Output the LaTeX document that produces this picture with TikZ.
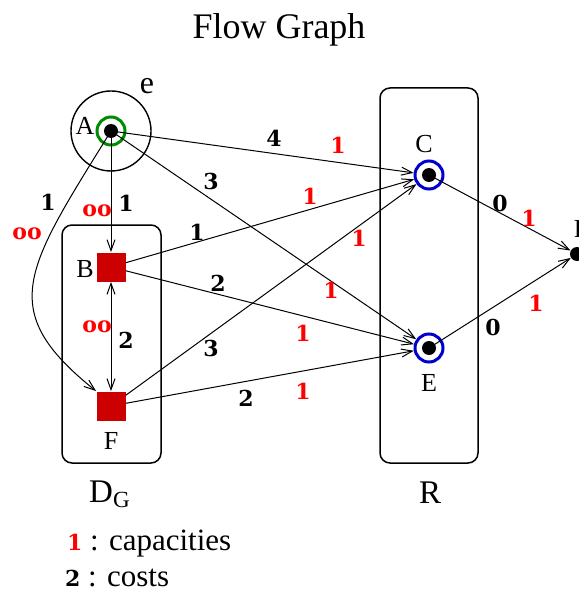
\documentclass[tikz,border=0pt]{standalone}
\usepackage{fontspec}
\setmainfont{Liberation Serif}
\newfontfamily\lblfont{DejaVu Serif}
\usetikzlibrary{arrows.meta}
\definecolor{capred}{RGB}{255,0,0}
\definecolor{boxred}{RGB}{204,0,0}
\definecolor{ringgreen}{RGB}{0,140,0}
\definecolor{ringblue}{RGB}{0,0,204}
\begin{document}
\begin{tikzpicture}[
        x=0.5pt, y=-0.5pt,
        every node/.style={font=\fontsize{13}{15}\selectfont},
        ring/.style={circle, minimum size=14pt, inner sep=0pt, line width=1.5pt},
        dot/.style={circle, fill=black, minimum size=7pt, inner sep=0pt},
        sq/.style={rectangle, fill=boxred, minimum size=14.5pt, inner sep=0pt},
        group/.style={draw, rounded corners=5pt, line width=0.75pt},
        arrow/.style={-{Straight Barb[length=5.5pt, width=4pt]}, line width=0.5pt},
        cost/.style={font=\lblfont\bfseries\fontsize{11}{13}\selectfont},
        capnum/.style={cost, text=capred},
        big/.style={font=\fontsize{16.5}{19}\selectfont}
      ]
      \useasboundingbox (0,0) rectangle (578,593);
      \node[font=\fontsize{18}{21}\selectfont] (title) at (279,30) {Flow Graph};
      \draw[group] (62,225) rectangle (161,463);
      \draw[group] (380,88) rectangle (478,463);
      \node[big] (dg) at (110,494) {D\textsubscript{G}};
      \node[big] (r) at (430,493) {R};
      \node[circle, draw, minimum size=40pt, inner sep=0pt, line width=0.7pt] (e) at (111,131) {};
      \node[ring, draw=ringgreen] (A) at (111,131) {};
      \node[ring, draw=ringblue] (C) at (429,175) {};
      \node[ring, draw=ringblue] (E) at (429,348) {};
      \node[dot] (P) at (577,254) {};
      \node[sq] (B) at (111,267) {};
      \node[sq] (F) at (111,406) {};
      \node (la) at (85,126) {A};
      \node[font=\fontsize{16}{19}\selectfont] (le) at (147,86) {e};
      \node (lc) at (424,144) {C};
      \node (le2) at (429,383) {E};
      \node (lp) at (581,229) {P};
      \node (lb) at (85,269) {B};
      \node (lf) at (111,441) {F};
      \draw[arrow] (A.center) -- (C);
      \draw[arrow] (A.center) -- (E);
      \draw[arrow] (A.center) -- (B);
      \draw[arrow] (A.center) .. controls (25,270) and (-5,310) .. (F.north west);
      \draw[arrow] (B) -- (C);
      \draw[arrow] (B) -- (E);
      \draw[{Straight Barb[length=5.5pt, width=4pt]}-{Straight Barb[length=5.5pt, width=4pt]}, line width=0.5pt] (B) -- (F);
      \draw[arrow] (F) -- (C);
      \draw[arrow] (F) -- (E);
      \draw[arrow] (C.center) -- (P);
      \draw[arrow] (E.center) -- (P);
      \node[dot] (Ad) at (A) {};
      \node[dot] (Cd) at (C) {};
      \node[dot] (Ed) at (E) {};
      \node[cost] (wAC) at (274,138) {4};
      \node[capnum] (cAC) at (338,145) {1};
      \node[cost] (wAE) at (211,181) {3};
      \node[capnum] (cAE) at (331,290) {1};
      \node[cost] (wAB) at (126,203) {1};
      \node[capnum] (cAB) at (97,211) {oo};
      \node[cost] (wAF) at (48,202) {1};
      \node[capnum] (cAF) at (27,234) {oo};
      \node[cost] (wBC) at (197,232) {1};
      \node[capnum] (cBC) at (310,196) {1};
      \node[cost] (wBE) at (218,283) {2};
      \node[capnum] (cBE) at (303,333) {1};
      \node[cost] (wBF) at (126,340) {2};
      \node[capnum] (cBF) at (97,327) {oo};
      \node[cost] (wFC) at (211,348) {3};
      \node[capnum] (cFC) at (359,238) {1};
      \node[cost] (wFE) at (246,398) {2};
      \node[capnum] (cFE) at (303,391) {1};
      \node[cost] (wCP) at (500,203) {0};
      \node[capnum] (cCP) at (529,218) {1};
      \node[cost] (wEP) at (493,327) {0};
      \node[capnum] (cEP) at (536,303) {1};
      \node[big, anchor=west, font=\fontsize{15.5}{18}\selectfont] (k1) at (60,544) {{\lblfont\bfseries\fontsize{11}{13}\selectfont\color{capred}1} : capacities};
      \node[big, anchor=west, font=\fontsize{15.5}{18}\selectfont] (k2) at (58,578) {{\lblfont\bfseries\fontsize{11}{13}\selectfont 2} : costs};
    \end{tikzpicture}
\end{document}
